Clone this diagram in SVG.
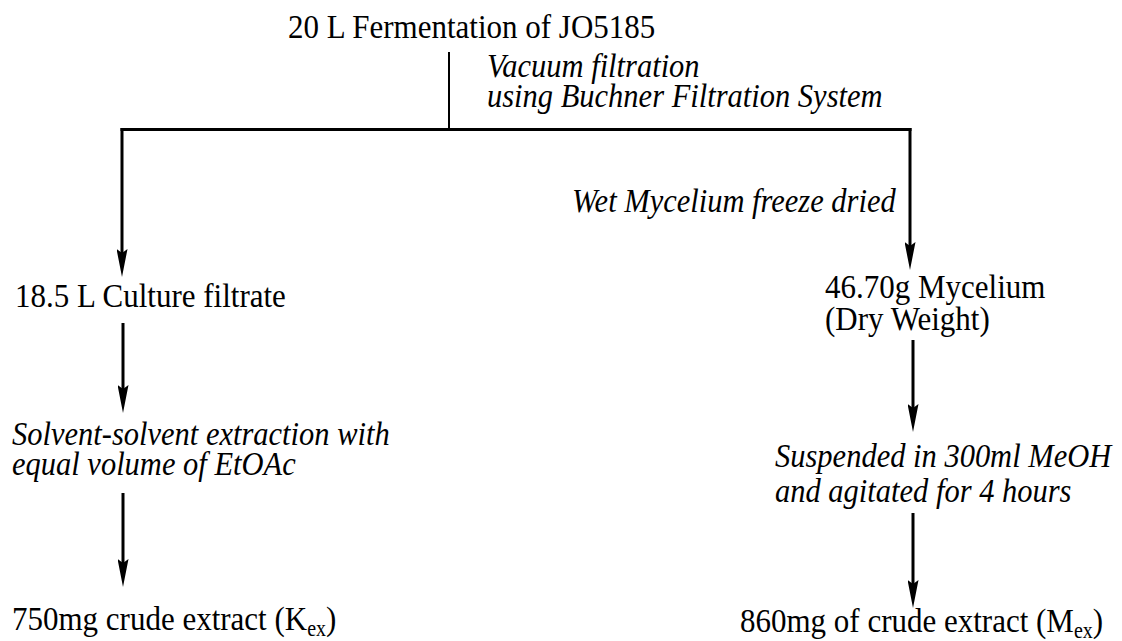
<svg xmlns="http://www.w3.org/2000/svg" width="1122" height="641" viewBox="0 0 1122 641">
<style>
.t{font-family:"Liberation Serif","Times New Roman",serif;font-size:31px;fill:#000}
.i{font-family:"Liberation Serif","Times New Roman",serif;font-size:30.5px;font-style:italic;fill:#000}
.c{stroke:#000;stroke-width:3;fill:none}
.s{stroke:#000;stroke-width:2;fill:none}
</style>
<defs>
<marker id="ah" markerUnits="userSpaceOnUse" viewBox="0 0 28 11" markerWidth="28" markerHeight="11" refX="16" refY="5.5" orient="auto">
<path d="M0,0 L28,5.5 L0,11 L4,5.5 z" fill="#000"/>
</marker>
</defs>
<rect width="1122" height="641" fill="#fff"/>
<g id="connectors">
<line class="s" x1="449" y1="52" x2="449" y2="129"/>
<line class="c" x1="120.5" y1="129.5" x2="911.5" y2="129.5"/>
<line class="c" x1="122" y1="128" x2="122" y2="265" marker-end="url(#ah)"/>
<line class="c" x1="910" y1="128" x2="910" y2="258" marker-end="url(#ah)"/>
<line class="c" x1="123" y1="323" x2="123" y2="401" marker-end="url(#ah)"/>
<line class="c" x1="123" y1="493" x2="123" y2="575" marker-end="url(#ah)"/>
<line class="c" x1="913" y1="340" x2="913" y2="420" marker-end="url(#ah)"/>
<line class="c" x1="913" y1="513" x2="913" y2="596" marker-end="url(#ah)"/>
</g>
<g id="n-fermentation"><text class="t" transform="translate(288,37.5) scale(1,1.12)">20 L Fermentation of JO5185</text></g>
<g id="l-vacuum">
<text class="i" transform="translate(487,77) scale(1,1.12)">Vacuum filtration</text>
<text class="i" transform="translate(487,107) scale(1,1.12)">using Buchner Filtration System</text>
</g>
<g id="l-wet"><text class="i" transform="translate(572,212) scale(1,1.12)">Wet Mycelium freeze dried</text></g>
<g id="n-filtrate"><text class="t" transform="translate(15,307) scale(1,1.12)">18.5 L Culture filtrate</text></g>
<g id="n-mycelium">
<text class="t" transform="translate(825,298) scale(1,1.12)">46.70g Mycelium</text>
<text class="t" transform="translate(825,330) scale(1,1.12)">(Dry Weight)</text>
</g>
<g id="l-solvent">
<text class="i" transform="translate(12,445) scale(1,1.12)">Solvent-solvent extraction with</text>
<text class="i" transform="translate(12,475) scale(1,1.12)">equal volume of EtOAc</text>
</g>
<g id="l-suspended">
<text class="i" transform="translate(775,467) scale(1,1.12)">Suspended in 300ml MeOH</text>
<text class="i" transform="translate(775,502) scale(1,1.12)">and agitated for 4 hours</text>
</g>
<g id="n-kex"><text class="t" transform="translate(12,630) scale(1,1.12)">750mg crude extract (K<tspan font-size="20" dy="5">ex</tspan><tspan dy="-5">)</tspan></text></g>
<g id="n-mex"><text class="t" transform="translate(740,632) scale(1,1.12)">860mg of crude extract (M<tspan font-size="20" dy="5">ex</tspan><tspan dy="-5">)</tspan></text></g>
</svg>
